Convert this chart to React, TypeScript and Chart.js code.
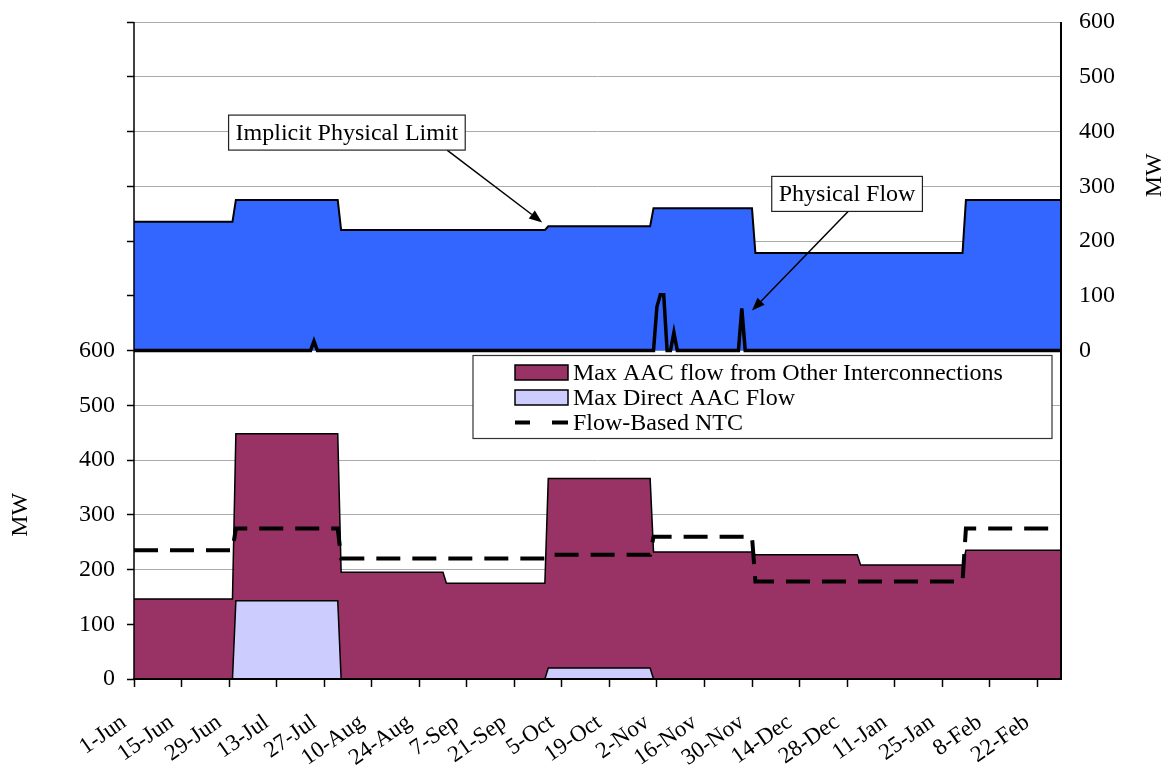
import React, { useEffect, useRef } from 'react';
import { Chart, registerables } from 'chart.js';

Chart.register(...registerables);

// ---- data -------------------------------------------------------------
const FIRST_DAY = '2007-06-01';
const LAST_DAY = '2008-02-29';

// monthly blocks (value holds from the first to the last day of the month)
const monthStarts = [
  '2007-06-01', '2007-07-01', '2007-08-01', '2007-09-01', '2007-10-01',
  '2007-11-01', '2007-12-01', '2008-01-01', '2008-02-01',
];
const implicitLimitMW = [235, 275, 220, 220, 227, 260, 178, 178, 275];
const flowBasedNtcMW = [235, 275, 220, 220, 227, 260, 178, 178, 275];
const otherAacMW = [146, 448, 195, 175, 366, 232, 227, 208, 235];
const directAacMW = [0, 143, 0, 0, 20, 0, 0, 0, 0];

// daily physical flow; every day not listed carried 0 MW
const flowDates = ['2007-07-24', '2007-11-02', '2007-11-03', '2007-11-04', '2007-11-07', '2007-11-27'];
const flowMW = [17, 80, 102, 102, 33, 77];

const xTickLabels = [
  '1-Jun', '15-Jun', '29-Jun', '13-Jul', '27-Jul', '10-Aug', '24-Aug', '7-Sep', '21-Sep', '5-Oct',
  '19-Oct', '2-Nov', '16-Nov', '30-Nov', '14-Dec', '28-Dec', '11-Jan', '25-Jan', '8-Feb', '22-Feb',
];

// ---- helpers ----------------------------------------------------------
const DAY_MS = 86400000;
const dayIndex = (iso: string) => Math.round((Date.parse(iso) - Date.parse(FIRST_DAY)) / DAY_MS);
const totalDays = dayIndex(LAST_DAY);

function monthlySeries(values: number[]) {
  const pts: { x: number; y: number }[] = [];
  monthStarts.forEach((m, i) => {
    const start = dayIndex(m);
    const end = i + 1 < monthStarts.length ? dayIndex(monthStarts[i + 1]) - 1 : totalDays;
    pts.push({ x: start, y: values[i] }, { x: end, y: values[i] });
  });
  return pts;
}

function dailyFlow() {
  const byDay = new Map<number, number>();
  flowDates.forEach((d, i) => byDay.set(dayIndex(d), flowMW[i]));
  const pts: { x: number; y: number }[] = [];
  for (let d = 0; d <= totalDays; d++) pts.push({ x: d, y: byDay.get(d) ?? 0 });
  return pts;
}

const SERIF = '"Liberation Serif", "Times New Roman", serif';
const FONT = `24px ${SERIF}`;

const BLUE = '#3366FF';
const MAROON = '#993366';
const LAVENDER = '#CCCCFF';

// callouts placed in (day, MW on the right-hand axis) coordinates
const callouts = [
  { text: 'Implicit Physical Limit', boxDay: 62.7, boxMW: 398, fromDay: 92.2, tipDay: 120.2, tipMW: 234 },
  { text: 'Physical Flow', boxDay: 210, boxMW: 286, fromDay: 210.3, tipDay: 182, tipMW: 73 },
];

function arrow(ctx: CanvasRenderingContext2D, x1: number, y1: number, x2: number, y2: number) {
  const ang = Math.atan2(y2 - y1, x2 - x1);
  const len = 13;
  const half = 5;
  const bx = x2 - len * Math.cos(ang);
  const by = y2 - len * Math.sin(ang);
  ctx.beginPath();
  ctx.moveTo(x1, y1);
  ctx.lineTo(bx, by);
  ctx.strokeStyle = '#000';
  ctx.lineWidth = 1.5;
  ctx.stroke();
  ctx.beginPath();
  ctx.moveTo(x2, y2);
  ctx.lineTo(bx + half * Math.sin(ang), by - half * Math.cos(ang));
  ctx.lineTo(bx - half * Math.sin(ang), by + half * Math.cos(ang));
  ctx.closePath();
  ctx.fillStyle = '#000';
  ctx.fill();
}

// fixed scale sizes so the plot area sits where the axes expect it
function fixSize(w?: number, h?: number) {
  return (s: any) => {
    if (w !== undefined) s.width = w;
    if (h !== undefined) s.height = h;
    s.paddingTop = 0;
    s.paddingBottom = 0;
    s.paddingLeft = 0;
    s.paddingRight = 0;
  };
}

const framePlugin = {
  id: 'frame',
  afterDatasetsDraw(chart: any) {
    const { ctx, chartArea } = chart;
    const { left, right, top, bottom } = chartArea;
    ctx.save();
    ctx.strokeStyle = '#000';
    ctx.lineWidth = 1.5;
    ctx.beginPath();
    ctx.moveTo(left, top);
    ctx.lineTo(left, bottom);
    ctx.stroke();
    ctx.lineWidth = 2;
    ctx.beginPath();
    ctx.moveTo(left - 1, bottom);
    ctx.lineTo(right, bottom);
    ctx.moveTo(right, top);
    ctx.lineTo(right, bottom + 1);
    ctx.stroke();
    ctx.restore();
  },
};

const overlayPlugin = {
  id: 'overlay',
  afterDraw(chart: any) {
    const { ctx, chartArea, scales } = chart;
    const x = scales.x;
    const yR = scales.yR;
    const yL = scales.yL;
    ctx.save();
    ctx.font = FONT;
    ctx.textBaseline = 'middle';

    // callouts
    callouts.forEach((c) => {
      const w = ctx.measureText(c.text).width + 14;
      const h = 35;
      const cx = x.getPixelForValue(c.boxDay);
      const cy = yR.getPixelForValue(c.boxMW);
      const bx = cx - w / 2;
      const by = cy - h / 2;
      arrow(ctx, x.getPixelForValue(c.fromDay), by + h, x.getPixelForValue(c.tipDay), yR.getPixelForValue(c.tipMW));
      ctx.fillStyle = '#fff';
      ctx.fillRect(bx, by, w, h);
      ctx.strokeStyle = '#222';
      ctx.lineWidth = 1.2;
      ctx.strokeRect(bx, by, w, h);
      ctx.fillStyle = '#000';
      ctx.textAlign = 'center';
      ctx.fillText(c.text, cx, cy + 1);
    });

    // legend
    const mid = yL.getPixelForValue(600);
    const lw = 579;
    const lh = 83;
    const lx = chartArea.right - 9 - lw;
    const ly = mid + 5;
    ctx.fillStyle = '#fff';
    ctx.fillRect(lx, ly, lw, lh);
    ctx.strokeStyle = '#333';
    ctx.lineWidth = 1.2;
    ctx.strokeRect(lx, ly, lw, lh);
    const rows = [
      { label: 'Max AAC flow from Other Interconnections', kind: 'box', color: MAROON },
      { label: 'Max Direct AAC Flow', kind: 'box', color: LAVENDER },
      { label: 'Flow-Based NTC', kind: 'dash', color: '#000' },
    ];
    rows.forEach((r, i) => {
      const ry = ly + 17 + i * 25;
      const sx = lx + 42;
      if (r.kind === 'box') {
        ctx.fillStyle = r.color;
        ctx.fillRect(sx, ry - 7.5, 53, 15);
        ctx.strokeStyle = '#000';
        ctx.lineWidth = 1.5;
        ctx.strokeRect(sx, ry - 7.5, 53, 15);
      } else {
        ctx.strokeStyle = '#000';
        ctx.lineWidth = 4;
        ctx.beginPath();
        ctx.moveTo(sx, ry);
        ctx.lineTo(sx + 15, ry);
        ctx.moveTo(sx + 37, ry);
        ctx.lineTo(sx + 53, ry);
        ctx.stroke();
      }
      ctx.fillStyle = '#000';
      ctx.textAlign = 'left';
      ctx.fillText(r.label, sx + 58, ry + 1);
    });

    // axis titles
    ctx.textAlign = 'center';
    ctx.save();
    ctx.translate(21, (mid + chartArea.bottom) / 2);
    ctx.rotate(-Math.PI / 2);
    ctx.fillText('MW', 0, 0);
    ctx.restore();
    ctx.save();
    ctx.translate(chart.width - 9, (chartArea.top + mid) / 2 - 11);
    ctx.rotate(-Math.PI / 2);
    ctx.fillText('MW', 0, 0);
    ctx.restore();

    ctx.restore();
  },
};

export default function App() {
  const ref = useRef<HTMLCanvasElement>(null);

  useEffect(() => {
    if (!ref.current) return;
    const tickFont = { family: SERIF, size: 24 };
    const chart = new Chart(ref.current, {
      type: 'line',
      data: {
        datasets: [
          {
            label: 'Physical Flow',
            data: dailyFlow(),
            yAxisID: 'yR',
            borderColor: '#000',
            borderWidth: 3.5,
            fill: false,
          },
          {
            label: 'Flow-Based NTC',
            data: monthlySeries(flowBasedNtcMW),
            yAxisID: 'yL',
            borderColor: '#000',
            borderWidth: 4,
            borderDash: [24, 12],
            borderCapStyle: 'butt',
            fill: false,
          },
          {
            label: 'Max Direct AAC Flow',
            data: monthlySeries(directAacMW),
            yAxisID: 'yL',
            borderColor: '#000',
            borderWidth: 1.5,
            backgroundColor: LAVENDER,
            fill: 'origin',
          },
          {
            label: 'Max AAC flow from Other Interconnections',
            data: monthlySeries(otherAacMW),
            yAxisID: 'yL',
            borderColor: '#000',
            borderWidth: 1.5,
            backgroundColor: MAROON,
            fill: 'origin',
          },
          {
            label: 'Implicit Physical Limit',
            data: monthlySeries(implicitLimitMW),
            yAxisID: 'yR',
            borderColor: '#000',
            borderWidth: 2,
            backgroundColor: BLUE,
            fill: 'origin',
          },
        ],
      },
      options: {
        animation: false,
        responsive: false,
        maintainAspectRatio: false,
        layout: { padding: { top: 22, left: 0, right: 0, bottom: 0 } },
        elements: { point: { radius: 0 }, line: { tension: 0 } },
        plugins: { legend: { display: false }, tooltip: { enabled: false } },
        scales: {
          x: {
            type: 'linear',
            min: 0,
            max: totalDays,
            afterFit: fixSize(undefined, 87),
            border: { display: false },
            grid: { drawOnChartArea: false, drawTicks: true, tickLength: 8, tickColor: '#000', tickWidth: 1.5 },
            ticks: {
              stepSize: 14,
              includeBounds: false,
              autoSkip: false,
              maxRotation: 35,
              minRotation: 35,
              padding: 22,
              labelOffset: -10,
              color: '#000',
              font: { family: SERIF, size: 23 },
              callback: (_v: any, i: number) => xTickLabels[i] ?? '',
            },
          },
          yL: {
            type: 'linear',
            position: 'left',
            min: 0,
            max: 1200,
            afterFit: fixSize(134),
            border: { display: false },
            grid: { color: '#ababab', lineWidth: 1, tickLength: 7, tickColor: '#000', tickWidth: 1.5 },
            ticks: {
              stepSize: 100,
              padding: 12,
              color: '#000',
              font: tickFont,
              callback: (v: any) => (v <= 600 ? String(v) : ''),
            },
          },
          yR: {
            type: 'linear',
            position: 'right',
            min: -600,
            max: 600,
            afterFit: fixSize(103),
            border: { display: false },
            grid: { drawOnChartArea: false, drawTicks: false },
            ticks: {
              stepSize: 100,
              padding: 18,
              color: '#000',
              font: tickFont,
              callback: (v: any) => (v >= 0 ? String(v) : ''),
            },
          },
        },
      },
      plugins: [framePlugin, overlayPlugin],
    } as any);
    return () => chart.destroy();
  }, []);

  return (
    <div style={{ position: 'absolute', left: 0, top: 0, width: 1164, height: 766, background: '#fff' }}>
      <canvas ref={ref} width={1164} height={766} style={{ width: 1164, height: 766 }} />
    </div>
  );
}
